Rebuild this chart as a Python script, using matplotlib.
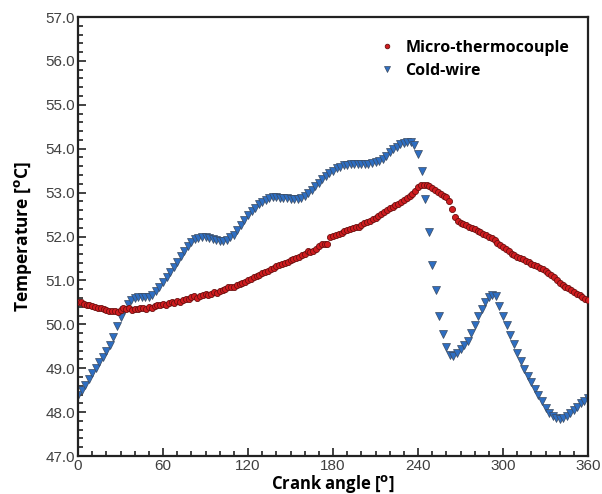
import numpy as np
import matplotlib
matplotlib.use("Agg")
import matplotlib.pyplot as plt
from matplotlib.ticker import MultipleLocator

# Cold-wire, every 2.5 deg from 0 to 360
cold_wire = [
    48.40, 48.50, 48.62, 48.75, 48.89, 49.01, 49.13, 49.26, 49.39, 49.52,
    49.70, 49.96, 50.16, 50.33, 50.47, 50.55, 50.60, 50.62, 50.62, 50.62,
    50.63, 50.66, 50.76, 50.86, 50.96, 51.07, 51.18, 51.30, 51.42, 51.56,
    51.68, 51.79, 51.88, 51.94, 51.97, 51.98, 51.98, 51.97, 51.95, 51.92,
    51.90, 51.90, 51.93, 51.98, 52.04, 52.15, 52.26, 52.38, 52.48, 52.58,
    52.66, 52.73, 52.79, 52.83, 52.87, 52.89, 52.89, 52.88, 52.87, 52.87,
    52.86, 52.85, 52.85, 52.87, 52.92, 52.98, 53.06, 53.15, 53.23, 53.31,
    53.38, 53.44, 53.50, 53.55, 53.59, 53.62, 53.64, 53.65, 53.65, 53.65,
    53.65, 53.65, 53.66, 53.67, 53.69, 53.72, 53.77, 53.84, 53.92, 53.99,
    54.05, 54.10, 54.14, 54.16, 54.16, 54.09, 53.88, 53.50, 52.85, 52.10,
    51.35, 50.78, 50.20, 49.78, 49.48, 49.30, 49.27, 49.34, 49.43, 49.52,
    49.62, 49.80, 49.98, 50.18, 50.35, 50.50, 50.62, 50.67, 50.65, 50.42,
    50.20, 49.98, 49.75, 49.55, 49.35, 49.17, 48.98, 48.82, 48.68, 48.53,
    48.39, 48.25, 48.10, 47.98, 47.90, 47.86, 47.85, 47.87, 47.91, 47.97,
    48.05, 48.12, 48.20, 48.26, 48.31,
]
cold_angle = np.linspace(0, 360, len(cold_wire))

# Micro-thermocouple, every 2 deg from 0 to 360
micro_tc = [
    50.51, 50.50, 50.47, 50.45, 50.44, 50.42, 50.40, 50.38, 50.36, 50.35,
    50.32, 50.31, 50.30, 50.31, 50.29, 50.33, 50.37, 50.34, 50.36, 50.33,
    50.35, 50.34, 50.36, 50.37, 50.35, 50.39, 50.38, 50.41, 50.43, 50.44,
    50.46, 50.45, 50.48, 50.50, 50.49, 50.52, 50.51, 50.55, 50.58, 50.57,
    50.62, 50.64, 50.61, 50.64, 50.67, 50.68, 50.66, 50.70, 50.73, 50.72,
    50.76, 50.79, 50.81, 50.84, 50.86, 50.85, 50.90, 50.92, 50.95, 50.97,
    51.02, 51.04, 51.07, 51.10, 51.13, 51.16, 51.19, 51.22, 51.26, 51.29,
    51.32, 51.35, 51.38, 51.40, 51.43, 51.46, 51.48, 51.51, 51.54, 51.57,
    51.60, 51.66, 51.64, 51.68, 51.72, 51.78, 51.83, 51.82, 51.83, 51.99,
    52.02, 52.04, 52.06, 52.08, 52.12, 52.15, 52.16, 52.20, 52.22, 52.21,
    52.26, 52.30, 52.33, 52.36, 52.39, 52.43, 52.47, 52.52, 52.56, 52.60,
    52.64, 52.67, 52.71, 52.75, 52.79, 52.83, 52.87, 52.92, 52.97, 53.04,
    53.12, 53.17, 53.18, 53.17, 53.14, 53.10, 53.05, 53.01, 52.96, 52.92,
    52.89, 52.80, 52.62, 52.45, 52.36, 52.31, 52.28, 52.26, 52.22, 52.19,
    52.16, 52.13, 52.10, 52.06, 52.03, 52.00, 51.96, 51.91, 51.86, 51.81,
    51.76, 51.71, 51.66, 51.61, 51.57, 51.54, 51.51, 51.48, 51.44, 51.41,
    51.38, 51.35, 51.32, 51.29, 51.26, 51.22, 51.17, 51.12, 51.07, 51.02,
    50.95, 50.90, 50.86, 50.82, 50.78, 50.74, 50.70, 50.66, 50.62, 50.58,
    50.55,
]
micro_angle = np.linspace(0, 360, len(micro_tc))

x_ticks = [0, 60, 120, 180, 240, 300, 360]
y_ticks = [47.0, 48.0, 49.0, 50.0, 51.0, 52.0, 53.0, 54.0, 55.0, 56.0, 57.0]

label_font = "Open Sans"

fig = plt.figure(figsize=(6.02, 4.94), dpi=100)
ax = fig.add_axes([78 / 602, 38 / 494, 510 / 602, 439 / 494])

ax.plot(micro_angle, micro_tc, linestyle="none", marker="o", markersize=4.4,
        markerfacecolor="#d01c1f", markeredgecolor="#6b1010", markeredgewidth=0.6,
        label="Micro-thermocouple", zorder=3)
ax.plot(cold_angle, cold_wire, linestyle="none", marker="v", markersize=5.2,
        markerfacecolor="#2e6ec2", markeredgecolor="#3a4a60", markeredgewidth=0.5,
        label="Cold-wire", zorder=2)

ax.set_xlim(0, 360)
ax.set_ylim(47.0, 57.0)
ax.set_xticks(x_ticks)
ax.set_yticks(y_ticks)
ax.set_xticklabels([str(v) for v in x_ticks])
ax.set_yticklabels([f"{v:.1f}" for v in y_ticks])
ax.xaxis.set_minor_locator(MultipleLocator(10))
ax.yaxis.set_minor_locator(MultipleLocator(0.2))
ax.tick_params(which="both", direction="in", top=False, right=False,
               width=1.2, color="#222222")
ax.tick_params(which="major", length=6, labelsize=11, labelcolor="#404040", pad=2)
ax.tick_params(which="minor", length=3.5)
for lbl in ax.get_xticklabels() + ax.get_yticklabels():
    lbl.set_family("Liberation Sans")
for sp in ax.spines.values():
    sp.set_linewidth(1.6)
    sp.set_color("#222222")

ax.set_xlabel(r"Crank angle [$^{\mathbf{o}}$]", fontsize=12, fontweight="bold",
              family=label_font, labelpad=0)
ax.set_ylabel(r"Temperature [$^{\mathbf{o}}$C]", fontsize=12.5, fontweight="bold",
              family=label_font, labelpad=8)

leg = ax.legend(loc="upper left", bbox_to_anchor=(0.575, 0.963), frameon=False,
                handletextpad=0.55, borderaxespad=0, handlelength=1.2,
                labelspacing=0.45, markerscale=0.75,
                prop={"family": label_font, "weight": "bold", "size": 11.5})

fig.savefig("out.png", dpi=100)
